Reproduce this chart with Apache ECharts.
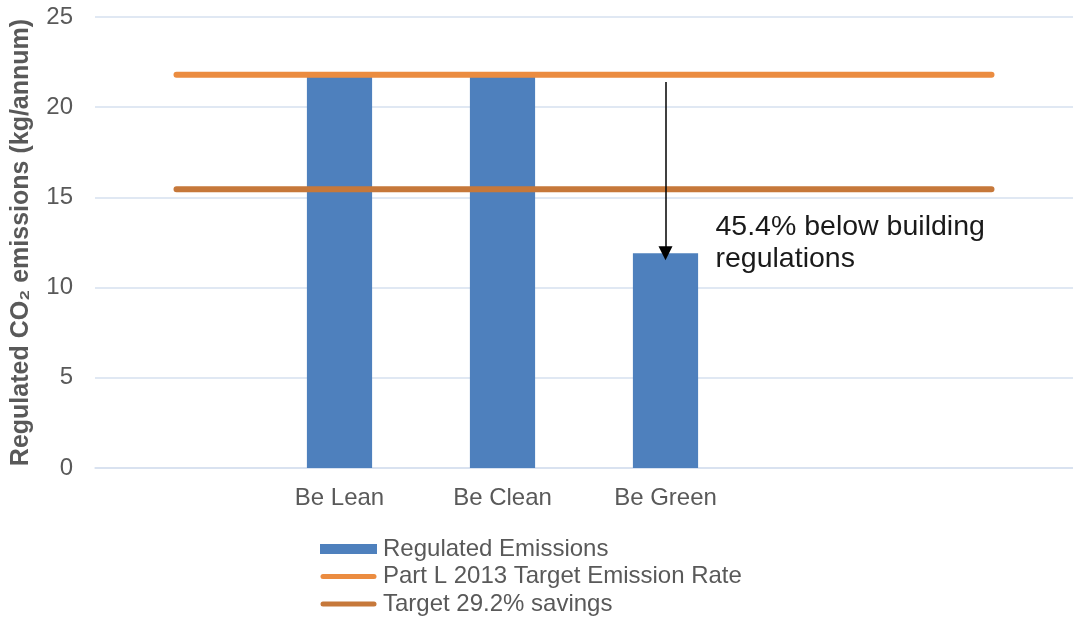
<!DOCTYPE html>
<html><head><meta charset="utf-8">
<script src="https://cdn.jsdelivr.net/npm/echarts@6/dist/echarts.min.js"></script>
<style>html,body{margin:0;padding:0;background:#fff}#c{width:1073px;height:619px}</style>
</head><body><div id="c"></div>
<script>
const categories = ['', 'Be Lean', 'Be Clean', 'Be Green', '', ''];
const regulatedEmissions = [null, 21.8, 21.8, 11.9, null, null];
const partLTarget = [21.8, 21.8, 21.8, 21.8, 21.8, 21.8];
const targetSavings = [15.45, 15.45, 15.45, 15.45, 15.45, 15.45];
const yTicks = [0, 5, 10, 15, 20, 25];
const annotationText = '45.4% below building\nregulations';

const FONT = '"Liberation Sans", Arial, Helvetica, sans-serif';
const LINE_ICON = 'path://M0,0L0,0M0,10L0,10M2.5,2.5H53.5A2.5,2.5,0,0,1,53.5,7.5H2.5A2.5,2.5,0,0,1,2.5,2.5Z';
const chart = echarts.init(document.getElementById('c'));
chart.setOption({
  animation: false,
  textStyle: { fontFamily: FONT },
  grid: { left: 95, right: 0, top: 17, bottom: 151, containLabel: false },
  legend: {
    orient: 'vertical', left: 320, top: 537, padding: 0, height: 82,
    itemWidth: 57, itemHeight: 10, itemGap: 3.5,
    textStyle: { fontSize: 24, color: '#595959', fontFamily: FONT, padding: [0, 0, 0, 1] },
    data: [
      { name: 'Regulated Emissions', icon: 'rect' },
      { name: 'Part L 2013 Target Emission Rate', icon: LINE_ICON },
      { name: 'Target 29.2% savings', icon: LINE_ICON }
    ]
  },
  xAxis: {
    type: 'category', data: categories, boundaryGap: true,
    axisLine: { lineStyle: { color: '#D6E0EF', width: 1.5 } },
    axisTick: { show: false },
    axisLabel: { fontSize: 24, color: '#595959', margin: 18, fontFamily: FONT }
  },
  yAxis: {
    type: 'value', min: yTicks[0], max: yTicks[yTicks.length - 1], interval: 5,
    name: 'Regulated CO\u2082 emissions (kg/annum)', nameLocation: 'middle', nameGap: 61,
    nameTextStyle: { fontSize: 25, fontWeight: 'bold', color: '#595959', fontFamily: FONT },
    axisLine: { show: false }, axisTick: { show: false },
    axisLabel: { fontSize: 24, color: '#595959', margin: 22, fontFamily: FONT },
    splitLine: { lineStyle: { color: '#D6E0EF', width: 1.5 } }
  },
  series: [
    {
      name: 'Regulated Emissions', type: 'bar', data: regulatedEmissions,
      barWidth: '40%', itemStyle: { color: '#4E80BD' }, z: 2,
      markLine: {
        silent: true, symbol: ['none', 'triangle'], symbolSize: [14, 14],
        lineStyle: { color: '#000', width: 1.5, type: 'solid' },
        label: { show: false },
        data: [[{ coord: ['Be Green', 21.4] }, { coord: ['Be Green', 11.9] }]]
      },
      markPoint: {
        silent: true, symbol: 'circle', symbolSize: 0,
        label: {
          show: true, position: 'right', distance: 0, offset: [50, 0],
          formatter: annotationText, fontSize: 28.5, lineHeight: 32,
          color: '#1a1a1a', align: 'left', fontFamily: FONT
        },
        data: [{ coord: ['Be Green', 12.45] }]
      }
    },
    {
      name: 'Part L 2013 Target Emission Rate', type: 'line', data: partLTarget,
      symbol: 'none', z: 3,
      lineStyle: { color: '#EB8C40', width: 6, cap: 'round' },
      itemStyle: { color: '#EB8C40' }
    },
    {
      name: 'Target 29.2% savings', type: 'line', data: targetSavings,
      symbol: 'none', z: 3,
      lineStyle: { color: '#C6783A', width: 6, cap: 'round' },
      itemStyle: { color: '#C6783A' }
    }
  ]
});
</script></body></html>
